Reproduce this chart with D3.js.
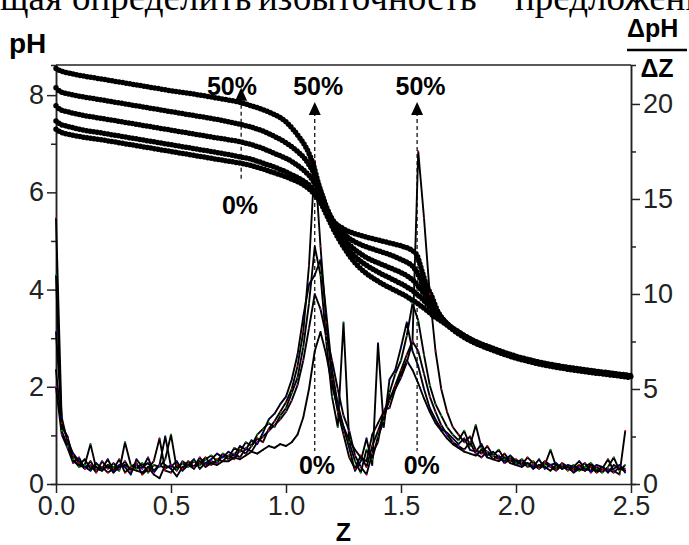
<!DOCTYPE html>
<html>
<head>
<meta charset="utf-8">
<script src="https://cdn.jsdelivr.net/npm/d3@7"></script>
<style>
  body { margin: 0; background: #fff; }
  svg { display: block; }
  .axis text { font-family: "Liberation Sans", Arial, sans-serif; font-size: 27px; fill: #222; }
  .axis path, .axis line { stroke: #222; stroke-width: 1.5px; }
  .lbl { font-family: "Liberation Sans", Arial, sans-serif; font-weight: bold; fill: #000; }
</style>
</head>
<body>
<script>
// titration curves, pH vs Z (five concentrations, top curve first)
var zPh = [0, 0.02, 0.05, 0.1, 0.2, 0.3, 0.4, 0.5, 0.6, 0.7, 0.8, 0.85, 0.9, 0.95, 1.0, 1.03, 1.06, 1.08, 1.1, 1.12,
  1.14, 1.16, 1.18, 1.2, 1.25, 1.3, 1.35, 1.4, 1.45, 1.5, 1.53, 1.55, 1.57, 1.59, 1.61, 1.63, 1.66, 1.7, 1.75, 1.8,
  1.9, 2.0, 2.1, 2.2, 2.3, 2.4, 2.5];
var phA = [8.55, 8.5, 8.46, 8.41, 8.33, 8.25, 8.17, 8.09, 8.02, 7.94, 7.85, 7.78, 7.7, 7.6, 7.45, 7.3, 7.12, 6.98, 6.8, 6.55,
  6.2, 5.9, 5.62, 5.45, 5.25, 5.15, 5.08, 5.02, 4.96, 4.9, 4.85, 4.8, 4.7, 4.4, 4.1, 3.9, 3.55, 3.3, 3.13, 2.99,
  2.79, 2.63, 2.51, 2.42, 2.35, 2.29, 2.23];
var phB = [8.15, 8.07, 8.03, 7.98, 7.9, 7.82, 7.74, 7.66, 7.58, 7.5, 7.4, 7.34, 7.26, 7.15, 7.02, 6.92, 6.8, 6.7, 6.57, 6.4,
  6.15, 5.9, 5.65, 5.45, 5.15, 4.98, 4.88, 4.8, 4.72, 4.62, 4.55, 4.48, 4.35, 4.15, 3.95, 3.78, 3.52, 3.3, 3.12, 2.98,
  2.78, 2.62, 2.5, 2.41, 2.34, 2.28, 2.22];
var phC = [7.78, 7.7, 7.66, 7.6, 7.52, 7.44, 7.36, 7.28, 7.2, 7.12, 7.04, 6.98, 6.9, 6.8, 6.7, 6.62, 6.52, 6.44, 6.35, 6.22,
  6.05, 5.85, 5.62, 5.4, 5.05, 4.82, 4.66, 4.55, 4.45, 4.35, 4.27, 4.2, 4.1, 3.98, 3.85, 3.72, 3.5, 3.29, 3.11, 2.97,
  2.77, 2.61, 2.49, 2.4, 2.33, 2.27, 2.21];
var phD = [7.47, 7.4, 7.36, 7.3, 7.22, 7.14, 7.06, 6.98, 6.9, 6.82, 6.73, 6.68, 6.6, 6.52, 6.42, 6.35, 6.28, 6.22, 6.15, 6.05,
  5.92, 5.75, 5.55, 5.35, 4.95, 4.68, 4.5, 4.36, 4.24, 4.12, 4.04, 3.98, 3.9, 3.82, 3.72, 3.62, 3.46, 3.28, 3.1, 2.96,
  2.76, 2.6, 2.48, 2.39, 2.32, 2.26, 2.2];
var phE = [7.3, 7.24, 7.2, 7.15, 7.08, 7.0, 6.92, 6.84, 6.76, 6.68, 6.6, 6.55, 6.48, 6.4, 6.32, 6.26, 6.2, 6.14, 6.07, 5.98,
  5.86, 5.7, 5.5, 5.3, 4.88, 4.55, 4.33, 4.17, 4.04, 3.92, 3.84, 3.78, 3.72, 3.65, 3.58, 3.5, 3.4, 3.27, 3.09, 2.95,
  2.75, 2.59, 2.47, 2.38, 2.31, 2.25, 2.19];

// derivative curves, dpH/dZ
var zDer = [0, 0.025, 0.05, 0.075, 0.1, 0.125, 0.15, 0.175, 0.2, 0.225,
  0.25, 0.275, 0.3, 0.325, 0.35, 0.375, 0.4, 0.425, 0.45, 0.475,
  0.5, 0.525, 0.55, 0.575, 0.6, 0.625, 0.65, 0.675, 0.7, 0.725,
  0.75, 0.775, 0.8, 0.825, 0.85, 0.875, 0.9, 0.925, 0.95, 0.975,
  1.0, 1.025, 1.05, 1.075, 1.1, 1.125, 1.15, 1.175, 1.2, 1.225,
  1.25, 1.275, 1.3, 1.325, 1.35, 1.375, 1.4, 1.425, 1.45, 1.475,
  1.5, 1.525, 1.55, 1.575, 1.6, 1.625, 1.65, 1.675, 1.7, 1.725,
  1.75, 1.775, 1.8, 1.825, 1.85, 1.875, 1.9, 1.925, 1.95, 1.975,
  2.0, 2.025, 2.05, 2.075, 2.1, 2.125, 2.15, 2.175, 2.2, 2.225,
  2.25, 2.275, 2.3, 2.325, 2.35, 2.375, 2.4, 2.425, 2.45, 2.475];
var derA = [14.0, 3.2, 2.4, 1.5, 1.1, 0.8, 1.2, 0.7, 0.9, 0.6,
  0.8, 1.3, 0.6, 0.9, 1.1, 0.5, 0.8, 1.2, 2.4, 0.7,
  0.6, 1.0, 0.8, 1.2, 0.9, 1.1, 1.4, 1.0, 1.3, 1.2,
  1.5, 1.3, 1.8, 1.6, 2.0, 2.4, 2.2, 2.9, 3.3, 3.8,
  4.3, 5.0, 6.2, 8.0, 11.5, 17.0, 12.5, 8.5, 5.5, 3.8,
  2.6, 1.4, 0.8, 1.5, 0.9, 2.0, 2.8, 3.6, 4.4, 5.2,
  6.0, 6.8, 7.5, 17.5, 14.0, 10.0, 7.0, 5.0, 3.8, 3.0,
  2.6, 2.2, 2.5, 1.8, 1.6, 2.0, 1.5, 1.3, 1.6, 1.2,
  1.3, 1.0, 1.4, 1.1, 0.9, 1.2, 1.0, 0.8, 1.1, 0.9,
  0.8, 1.0, 0.7, 0.9, 0.6, 0.8, 1.3, 0.7, 0.5, 2.8];
var derB = [11.0, 2.8, 2.0, 1.3, 0.9, 1.0, 2.1, 0.8, 0.7, 1.0,
  0.9, 0.7, 2.2, 1.0, 0.8, 1.1, 0.6, 1.0, 0.9, 1.3,
  2.6, 0.8, 1.1, 0.9, 1.2, 1.0, 1.3, 1.5, 1.2, 1.6,
  1.4, 1.9, 1.7, 2.2, 2.0, 2.6, 2.9, 3.2, 3.0, 3.6,
  4.0, 4.8, 5.6, 7.2, 9.5, 12.5, 11.0, 7.5, 4.6, 3.0,
  8.5, 2.2, 1.2, 0.6, 1.8, 1.3, 2.5, 3.3, 4.8, 5.8,
  6.5, 7.8, 9.5, 8.6, 6.8, 5.2, 4.2, 3.6, 3.0, 2.6,
  2.3, 2.8, 2.0, 3.1, 1.9, 1.7, 1.5, 1.8, 1.3, 1.4,
  1.1, 1.3, 1.0, 1.2, 0.8, 1.0, 1.8, 0.9, 1.0, 0.7,
  1.0, 0.7, 0.9, 1.1, 0.8, 0.6, 0.9, 1.4, 0.7, 1.0];
var derC = [8.0, 3.5, 2.2, 1.6, 1.2, 0.9, 0.7, 1.1, 0.8, 1.3,
  0.7, 1.0, 0.9, 0.5, 1.3, 0.9, 1.1, 0.7, 1.0, 2.5,
  0.9, 1.2, 0.7, 1.0, 1.3, 0.8, 1.1, 1.3, 1.6, 1.4,
  1.7, 1.5, 2.0, 1.8, 2.3, 2.1, 2.7, 3.4, 3.7, 4.2,
  4.6, 5.5, 6.8, 8.8, 10.5, 11.0, 11.8, 9.0, 6.0, 4.2,
  3.0, 1.9, 0.7, 1.2, 2.4, 1.0, 7.4, 3.0, 5.5, 6.0,
  7.2, 8.5, 7.0, 6.2, 5.0, 4.0, 3.4, 2.9, 2.7, 2.4,
  2.1, 2.4, 1.8, 1.7, 2.1, 1.5, 1.7, 1.4, 1.2, 1.5,
  1.2, 1.0, 1.1, 0.9, 1.3, 0.8, 1.0, 1.1, 0.8, 1.0,
  0.9, 1.2, 0.8, 0.7, 1.0, 0.9, 0.7, 0.8, 1.0, 0.6];
var derD = [5.1, 2.6, 1.9, 1.1, 1.4, 0.8, 1.0, 0.6, 1.2, 0.8,
  1.1, 0.8, 1.2, 0.7, 1.0, 0.8, 1.4, 0.6, 1.0, 0.8,
  1.0, 0.7, 1.2, 1.0, 0.9, 1.4, 1.0, 1.2, 1.1, 1.5,
  1.3, 1.6, 1.4, 1.9, 1.7, 2.2, 2.5, 2.8, 3.1, 3.4,
  3.8, 4.4, 5.2, 6.5, 8.2, 10.0, 9.2, 7.8, 6.5, 5.0,
  3.6, 2.8, 1.5, 0.9, 0.5, 1.6, 2.2, 3.9, 4.0, 5.0,
  5.6, 6.4, 7.5, 7.0, 5.8, 4.6, 3.8, 3.1, 2.6, 2.2,
  2.0, 1.8, 2.2, 1.6, 1.4, 1.7, 1.3, 1.5, 1.1, 1.3,
  1.0, 1.2, 0.9, 1.0, 0.8, 1.1, 0.9, 0.7, 1.0, 0.8,
  0.7, 0.9, 1.1, 0.6, 0.9, 0.7, 0.8, 0.6, 0.9, 0.8];
var derE = [6.0, 3.0, 2.5, 1.2, 1.0, 1.3, 0.8, 0.9, 0.7, 1.0,
  0.6, 0.9, 1.0, 0.8, 0.7, 0.6, 0.9, 0.5, 0.3, 1.0,
  0.8, 0.4, 0.9, 1.0, 0.8, 1.2, 0.9, 1.1, 1.0, 1.2,
  1.2, 1.4, 1.3, 1.5, 1.7, 1.6, 1.8, 2.0, 1.9, 2.1,
  2.0, 2.2, 2.6, 3.5, 5.0, 7.0, 8.0, 6.8, 5.2, 4.0,
  3.0, 2.3, 1.8, 1.4, 1.2, 2.6, 3.2, 3.8, 4.5, 5.0,
  5.8, 6.5, 6.0, 5.3, 4.5, 3.8, 3.2, 2.8, 2.4, 2.1,
  1.9, 1.7, 1.6, 1.5, 1.8, 1.4, 1.3, 1.2, 1.4, 1.1,
  1.0, 0.9, 1.1, 0.8, 1.0, 0.9, 0.7, 1.0, 0.8, 0.9,
  0.6, 0.8, 0.7, 1.0, 0.7, 0.9, 0.6, 1.0, 0.8, 0.7];

// annotation positions (Z) for the 50% / 0% arrows
var markZ = [0.805, 1.125, 1.57];
var markLabelZ = [0.765, 1.14, 1.585];
var zeroLabelZ = [0.8, 1.135, 1.59];
var markTop = [8.15, 7.86, 7.86];
var markBottom = [6.25, 0.68, 0.68];
var zeroLabelY = [5.55, 0.2, 0.2];

// words of the cut-off line of body text above the figure
var headWords = ["щая", "определить", "избыточность", "предложени"];
var headWordX = [0, 72, 258, 515];

var width = 689, height = 545;
var margin = {top: 65, right: 58, bottom: 61, left: 56};

var svg = d3.select("body").append("svg")
  .attr("width", width)
  .attr("height", height);

var x = d3.scaleLinear().domain([0, 2.5]).range([margin.left, width - margin.right]);
var yPh = d3.scaleLinear().domain([0, 8.62]).range([height - margin.bottom, margin.top]);
var yDer = d3.scaleLinear().domain([0, 22.05]).range([height - margin.bottom, margin.top]);

svg.append("g").selectAll("text")
  .data(headWords)
  .enter().append("text")
  .attr("x", function(d, i) { return headWordX[i]; })
  .attr("y", 10)
  .attr("font-family", "Liberation Serif, Times New Roman, serif")
  .attr("font-size", 37)
  .text(function(d) { return d; });

// frame top line
svg.append("line")
  .attr("x1", margin.left).attr("x2", width - margin.right)
  .attr("y1", margin.top).attr("y2", margin.top)
  .attr("stroke", "#222").attr("stroke-width", 1.5);

// minor ticks
svg.append("g").attr("class", "axis")
  .attr("transform", "translate(" + margin.left + ",0)")
  .call(d3.axisLeft(yPh).tickValues([1, 3, 5, 7]).tickSize(5).tickFormat(""));
svg.append("g").attr("class", "axis")
  .attr("transform", "translate(" + (width - margin.right) + ",0)")
  .call(d3.axisRight(yDer).tickValues([2.5, 7.5, 12.5, 17.5]).tickSize(5).tickFormat(""));

svg.append("g").attr("class", "axis")
  .attr("transform", "translate(" + margin.left + ",0)")
  .call(d3.axisLeft(yPh).tickValues([0, 2, 4, 6, 8]).tickSize(9).tickSizeOuter(0).tickFormat(d3.format("d")));

svg.append("g").attr("class", "axis")
  .attr("transform", "translate(" + (width - margin.right) + ",0)")
  .call(d3.axisRight(yDer).tickValues([0, 5, 10, 15, 20]).tickSize(9).tickSizeOuter(0).tickFormat(d3.format("d")));

svg.append("g").attr("class", "axis")
  .attr("transform", "translate(0," + (height - margin.bottom) + ")")
  .call(d3.axisBottom(x).tickValues([0, 0.5, 1, 1.5, 2, 2.5]).tickSize(9).tickSizeOuter(0).tickFormat(d3.format(".1f")));

// titration curves drawn as dense dots
var phSeries = [phA, phB, phC, phD, phE];
var phLine = d3.line()
  .x(function(d, i) { return x(zPh[i]); })
  .y(function(d) { return yPh(d); })
  .curve(d3.curveMonotoneX);

svg.selectAll(".ph")
  .data(phSeries)
  .enter().append("path")
  .attr("class", "ph")
  .attr("d", phLine)
  .attr("fill", "none")
  .attr("stroke", "#000")
  .attr("stroke-width", 5.5)
  .attr("stroke-linecap", "round")
  .attr("stroke-dasharray", "0 3.6");

// derivative curves
var derSeries = [derA, derB, derC, derD, derE];
var dotColors = ["#e00000", "#00a000", "#0000e0", "#c000c0", "#000"];
var derLine = d3.line()
  .x(function(d, i) { return x(zDer[i]); })
  .y(function(d) { return yDer(d); });

svg.selectAll(".der")
  .data(derSeries)
  .enter().append("path")
  .attr("class", "der")
  .attr("d", derLine)
  .attr("fill", "none")
  .attr("stroke", "#000")
  .attr("stroke-width", 1.9)
  .attr("stroke-linejoin", "round");

derSeries.forEach(function(s, k) {
  svg.append("g").selectAll("rect")
    .data(s)
    .enter().append("rect")
    .attr("x", function(d, i) { return x(zDer[i]) - 0.75; })
    .attr("y", function(d) { return yDer(d) - 0.75; })
    .attr("width", 1.5).attr("height", 1.5)
    .attr("fill", dotColors[k]);
});

// 50% / 0% markers
markZ.forEach(function(z, i) {
  var xm = x(z);
  svg.append("line")
    .attr("x1", xm).attr("x2", xm)
    .attr("y1", yPh(markTop[i]) + 10).attr("y2", yPh(markBottom[i]))
    .attr("stroke", "#000").attr("stroke-width", 1.2)
    .attr("stroke-dasharray", "4 3");
  var tip = yPh(markTop[i]);
  svg.append("path")
    .attr("d", "M" + xm + "," + tip + "L" + (xm - 6) + "," + (tip + 13) + "L" + (xm + 6) + "," + (tip + 13) + "Z")
    .attr("fill", "#000");
  svg.append("text")
    .attr("class", "lbl")
    .attr("x", x(markLabelZ[i]))
    .attr("y", yPh(8.0))
    .attr("text-anchor", "middle")
    .attr("font-size", 25)
    .text("50%");
  svg.append("text")
    .attr("class", "lbl")
    .attr("x", x(zeroLabelZ[i]))
    .attr("y", yPh(zeroLabelY[i]))
    .attr("text-anchor", "middle")
    .attr("font-size", 25)
    .text("0%");
});

// axis titles
svg.append("text").attr("class", "lbl")
  .attr("x", 9).attr("y", 53)
  .attr("font-size", 28)
  .text("pH");

svg.append("text").attr("class", "lbl")
  .attr("x", 627).attr("y", 37)
  .attr("font-size", 25)
  .text("ΔpH");
svg.append("line")
  .attr("x1", 627).attr("x2", 687)
  .attr("y1", 50).attr("y2", 50)
  .attr("stroke", "#000").attr("stroke-width", 2.5);
svg.append("text").attr("class", "lbl")
  .attr("x", 657).attr("y", 77)
  .attr("text-anchor", "middle")
  .attr("font-size", 25)
  .text("ΔZ");

svg.append("text").attr("class", "lbl")
  .attr("x", (margin.left + width - margin.right) / 2).attr("y", 541)
  .attr("text-anchor", "middle")
  .attr("font-size", 25)
  .text("Z");
</script>
</body>
</html>
